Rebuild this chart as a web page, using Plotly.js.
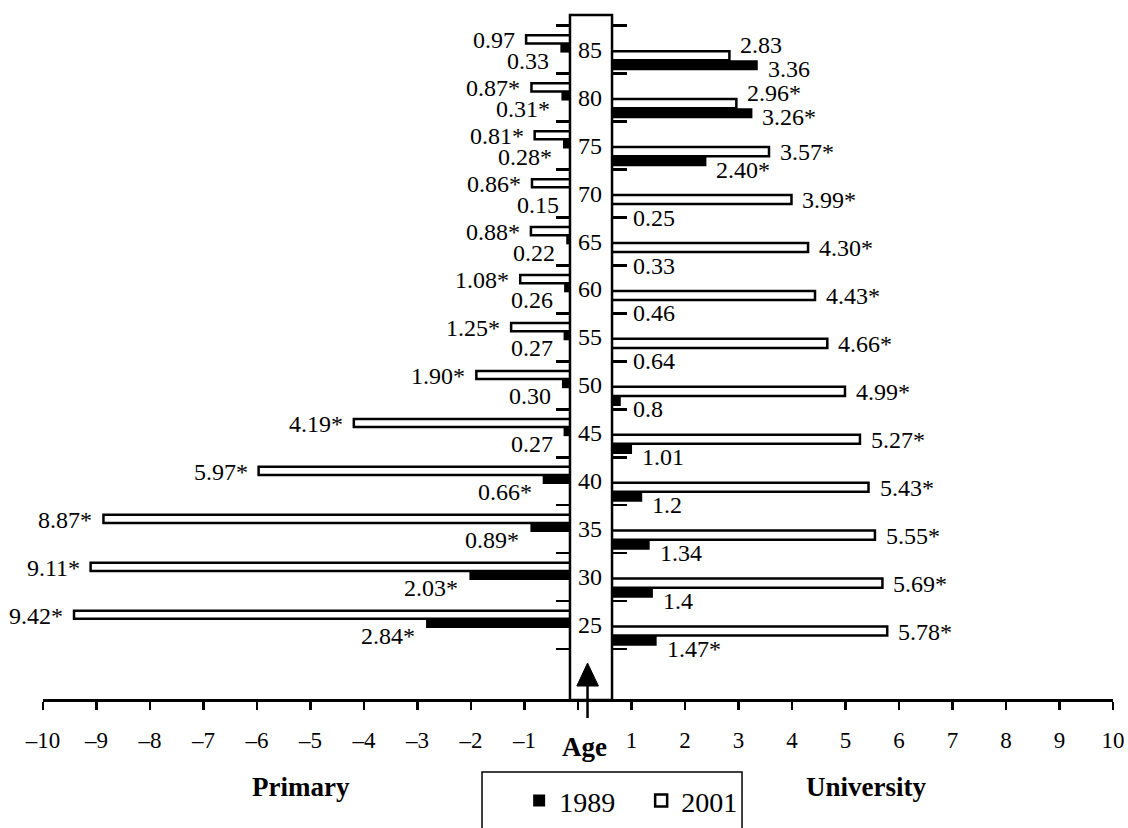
<!DOCTYPE html>
<html>
<head>
<meta charset="utf-8">
<script src="https://cdn.plot.ly/plotly-3.0.1.min.js"></script>
<style>
  html, body { margin: 0; padding: 0; background: #fff; }
  #chart { width: 1128px; height: 828px; }
</style>
</head>
<body>
<div id="chart"></div>
<script>
// ---- data ----
const ages = [25, 30, 35, 40, 45, 50, 55, 60, 65, 70, 75, 80, 85];

const primary1989 = [2.84, 2.03, 0.89, 0.66, 0.27, 0.30, 0.27, 0.26, 0.22, 0.15, 0.28, 0.31, 0.33];
const primary2001 = [9.42, 9.11, 8.87, 5.97, 4.19, 1.90, 1.25, 1.08, 0.88, 0.86, 0.81, 0.87, 0.97];
const university1989 = [1.47, 1.4, 1.34, 1.2, 1.01, 0.8, 0.64, 0.46, 0.33, 0.25, 2.40, 3.26, 3.36];
const university2001 = [5.78, 5.69, 5.55, 5.43, 5.27, 4.99, 4.66, 4.43, 4.30, 3.99, 3.57, 2.96, 2.83];

const primary1989Labels = ["2.84*", "2.03*", "0.89*", "0.66*", "0.27", "0.30", "0.27", "0.26", "0.22", "0.15", "0.28*", "0.31*", "0.33"];
const primary2001Labels = ["9.42*", "9.11*", "8.87*", "5.97*", "4.19*", "1.90*", "1.25*", "1.08*", "0.88*", "0.86*", "0.81*", "0.87*", "0.97"];
const university1989Labels = ["1.47*", "1.4", "1.34", "1.2", "1.01", "0.8", "0.64", "0.46", "0.33", "0.25", "2.40*", "3.26*", "3.36"];
const university2001Labels = ["5.78*", "5.69*", "5.55*", "5.43*", "5.27*", "4.99*", "4.66*", "4.43*", "4.30*", "3.99*", "3.57*", "2.96*", "2.83"];

const xTickValues = [-10, -9, -8, -7, -6, -5, -4, -3, -2, -1, 0, 1, 2, 3, 4, 5, 6, 7, 8, 9, 10];
const xTickLabels = ["\u201310", "\u20139", "\u20138", "\u20137", "\u20136", "\u20135", "\u20134", "\u20133", "\u20132", "\u20131", "", "1", "2", "3", "4", "5", "6", "7", "8", "9", "10"];
const ageBoundaries = [22.5, 27.5, 32.5, 37.5, 42.5, 47.5, 52.5, 57.5, 62.5, 67.5, 72.5, 77.5, 82.5, 87.5];
const seriesNames = ["1989", "2001"];
const sideTitles = ["Primary", "University"];
const centreTitle = "Age";

// ---- styling ----
const FONT = "'Liberation Serif', 'Times New Roman', serif";
const BLACK = "#000000";
const WHITE = "#ffffff";
const yRange = [17.29, 88.62];

const neg = a => a.map(v => -v);

const traces = [
  { // Primary 1989
    type: "bar", orientation: "h", name: seriesNames[0],
    x: neg(primary1989), y: ages, xaxis: "x", yaxis: "y",
    offset: -0.3, width: 0.95,
    marker: { color: BLACK, line: { color: BLACK, width: 0 } },
    showlegend: true, hoverinfo: "skip"
  },
  { // Primary 2001
    type: "bar", orientation: "h", name: seriesNames[1],
    x: neg(primary2001), y: ages, xaxis: "x", yaxis: "y",
    offset: 0.65, width: 0.85,
    marker: { color: WHITE, line: { color: BLACK, width: 2.5 } },
    showlegend: true, hoverinfo: "skip"
  },
  { // University 1989
    type: "bar", orientation: "h", name: seriesNames[0],
    x: university1989, y: ages, xaxis: "x", yaxis: "y2",
    offset: -2.15, width: 1.05,
    marker: { color: BLACK, line: { color: BLACK, width: 0 } },
    showlegend: false, hoverinfo: "skip"
  },
  { // University 2001
    type: "bar", orientation: "h", name: seriesNames[1],
    x: university2001, y: ages, xaxis: "x", yaxis: "y2",
    offset: -1.1, width: 0.95,
    marker: { color: WHITE, line: { color: BLACK, width: 2.5 } },
    showlegend: false, hoverinfo: "skip"
  }
];

const labelFont = { family: FONT, size: 24, color: BLACK };
const annotations = [];

ages.forEach((age, i) => {
  // Primary side
  annotations.push({
    x: -primary2001[i], y: age, xref: "x", yref: "y", text: primary2001Labels[i],
    xanchor: "right", yanchor: "middle", xshift: -9, yshift: 9.5,
    showarrow: false, font: labelFont
  });
  annotations.push({
    x: -primary1989[i], y: age, xref: "x", yref: "y", text: primary1989Labels[i],
    xanchor: "right", yanchor: "middle", xshift: -9, yshift: -11,
    showarrow: false, font: labelFont
  });
  // University side
  const blackLonger = university1989[i] > university2001[i];
  annotations.push({
    x: university2001[i], y: age, xref: "x", yref: "y2", text: university2001Labels[i],
    xanchor: "left", yanchor: "middle", xshift: 9, yshift: blackLonger ? 5 : -6.5,
    showarrow: false, font: labelFont
  });
  annotations.push({
    x: Math.max(university1989[i], 0.85), y: age, xref: "x", yref: "y2", text: university1989Labels[i],
    xanchor: "left", yanchor: "middle", xshift: 8, yshift: blackLonger ? -19 : -24,
    showarrow: false, font: labelFont
  });
  // Age label inside the central box
  annotations.push({
    x: 0.5112, y: age, xref: "paper", yref: "y", text: String(age),
    xanchor: "center", yanchor: "middle", showarrow: false, font: labelFont
  });
});

const titleFont = { family: FONT, size: 27, color: BLACK };
annotations.push({ x: 0.5065, y: -0.0702, xref: "paper", yref: "paper", text: "<b>" + centreTitle + "</b>",
  xanchor: "center", yanchor: "middle", showarrow: false, font: titleFont });
annotations.push({ x: 0.2411, y: -0.1287, xref: "paper", yref: "paper", text: "<b>" + sideTitles[0] + "</b>",
  xanchor: "center", yanchor: "middle", showarrow: false, font: titleFont });
annotations.push({ x: 0.7692, y: -0.1287, xref: "paper", yref: "paper", text: "<b>" + sideTitles[1] + "</b>",
  xanchor: "center", yanchor: "middle", showarrow: false, font: titleFont });

const shapes = [
  // central age box
  { type: "rect", xref: "paper", yref: "paper", x0: 0.4925, x1: 0.5318, y0: -0.0015, y1: 1,
    fillcolor: WHITE, line: { color: BLACK, width: 2.5 }, layer: "above" },
  // arrow shaft
  { type: "line", xref: "paper", yref: "paper", x0: 0.5089, x1: 0.5089, y0: -0.0278, y1: 0.022,
    line: { color: BLACK, width: 2.5 }, layer: "above" },
  // arrow head
  { type: "path", xref: "paper", yref: "paper",
    path: "M 0.4989 0.0190 L 0.5089 0.0526 L 0.5191 0.0190 Z",
    fillcolor: BLACK, line: { color: BLACK, width: 1 }, layer: "above" },
  // legend frame
  { type: "rect", xref: "paper", yref: "paper", x0: 0.4103, x1: 0.6533, y0: -0.1067, y1: -0.26,
    fillcolor: "rgba(0,0,0,0)", line: { color: BLACK, width: 1.5 }, layer: "above" }
];

const yTickAxis = (pos, side) => ({
  range: yRange, anchor: "free", position: pos, side: side,
  tickmode: "array", tickvals: ageBoundaries, showticklabels: false,
  ticks: "outside", ticklen: 14, tickwidth: 2.5, tickcolor: BLACK,
  showline: false, showgrid: false, zeroline: false, fixedrange: true
});

const layout = {
  width: 1128, height: 828,
  margin: { l: 43, r: 15, t: 15, b: 129, pad: 0, autoexpand: false },
  paper_bgcolor: WHITE, plot_bgcolor: WHITE,
  barmode: "overlay",
  font: { family: FONT, size: 23, color: BLACK },
  xaxis: {
    range: [-10, 10], tickmode: "array", tickvals: xTickValues, ticktext: xTickLabels,
    ticks: "outside", ticklen: 8, tickwidth: 2.5, tickcolor: BLACK,
    showline: true, linewidth: 2.5, linecolor: BLACK,
    showgrid: false, zeroline: false, fixedrange: true,
    tickfont: { family: FONT, size: 23, color: BLACK },
    ticklabelstandoff: 11
  },
  yaxis: yTickAxis(0.4925, "left"),
  yaxis2: Object.assign(yTickAxis(0.5318, "right"), { overlaying: "y" }),
  showlegend: true,
  legend: {
    orientation: "h", x: 0.445, xanchor: "left", y: -0.149, yanchor: "middle",
    font: { family: FONT, size: 28, color: BLACK },
    bgcolor: "rgba(0,0,0,0)", borderwidth: 0, traceorder: "normal",
    entrywidth: 77, entrywidthmode: "pixels"
  },
  hovermode: false,
  annotations: annotations,
  shapes: shapes
};

Plotly.newPlot("chart", traces, layout, { staticPlot: true, displayModeBar: false });
</script>
</body>
</html>
